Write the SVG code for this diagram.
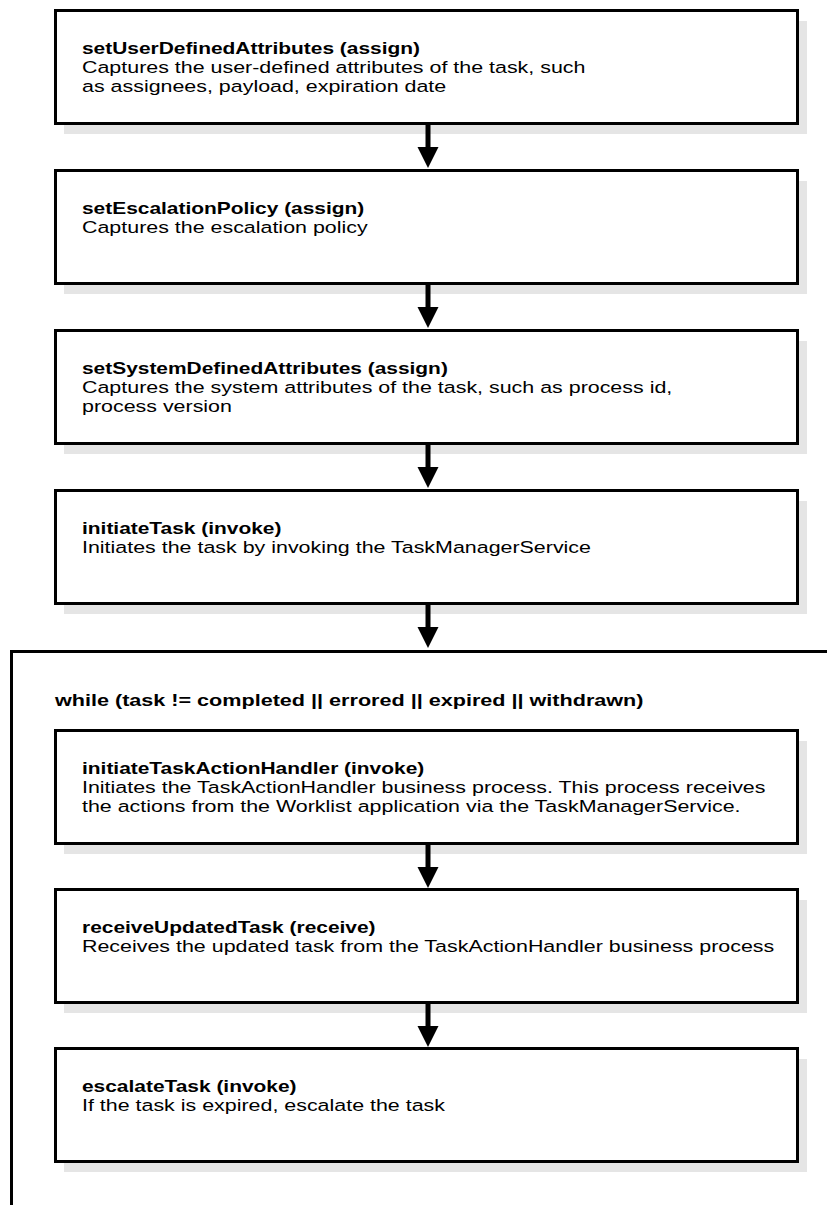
<svg xmlns="http://www.w3.org/2000/svg" width="827" height="1205" viewBox="0 0 827 1205">
  <defs>
    <style>
      .shadow { fill: #e5e5e5; stroke: none; }
      .box { fill: #ffffff; stroke: #000000; stroke-width: 3; }
      .title { font-family: "Liberation Sans", Arial, sans-serif; font-size: 17px; font-weight: bold; fill: #000000; }
      .desc { font-family: "Liberation Sans", Arial, sans-serif; font-size: 17px; fill: #000000; }
      .edge { stroke: #000000; stroke-width: 5; fill: none; }
      .head { fill: #000000; stroke: none; }
      .loop { fill: none; stroke: #000000; stroke-width: 3; }
    </style>
  </defs>

  <rect width="827" height="1205" fill="#ffffff"/>

  <!-- while loop container (runs off the page to the right and bottom) -->
  <g id="while-loop">
    <path class="loop" d="M11.5,1205 V651.5 H827"/>
    <text class="title" transform="translate(55,706) scale(1.27,1)">while (task != completed || errored || expired || withdrawn)</text>
  </g>

  <g id="setUserDefinedAttributes">
    <rect class="shadow" x="64" y="21" width="743" height="113"/>
    <rect class="box" x="55.5" y="10.5" width="742" height="113"/>
    <text class="title" transform="translate(82,54) scale(1.23,1)">setUserDefinedAttributes (assign)</text>
    <text class="desc" transform="translate(82,73) scale(1.26,1)">Captures the user-defined attributes of the task, such</text>
    <text class="desc" transform="translate(82,92) scale(1.26,1)">as assignees, payload, expiration date</text>
  </g>

  <g id="setEscalationPolicy">
    <rect class="shadow" x="64" y="181" width="743" height="113"/>
    <rect class="box" x="55.5" y="170.5" width="742" height="113"/>
    <text class="title" transform="translate(82,214) scale(1.23,1)">setEscalationPolicy (assign)</text>
    <text class="desc" transform="translate(82,233) scale(1.26,1)">Captures the escalation policy</text>
  </g>

  <g id="setSystemDefinedAttributes">
    <rect class="shadow" x="64" y="341" width="743" height="113"/>
    <rect class="box" x="55.5" y="330.5" width="742" height="113"/>
    <text class="title" transform="translate(82,374) scale(1.23,1)">setSystemDefinedAttributes (assign)</text>
    <text class="desc" transform="translate(82,393) scale(1.26,1)">Captures the system attributes of the task, such as process id,</text>
    <text class="desc" transform="translate(82,412) scale(1.26,1)">process version</text>
  </g>

  <g id="initiateTask">
    <rect class="shadow" x="64" y="501" width="743" height="113"/>
    <rect class="box" x="55.5" y="490.5" width="742" height="113"/>
    <text class="title" transform="translate(82,534) scale(1.23,1)">initiateTask (invoke)</text>
    <text class="desc" transform="translate(82,553) scale(1.26,1)">Initiates the task by invoking the TaskManagerService</text>
  </g>

  <g id="initiateTaskActionHandler">
    <rect class="shadow" x="64" y="741" width="743" height="113"/>
    <rect class="box" x="55.5" y="730.5" width="742" height="113"/>
    <text class="title" transform="translate(82,774) scale(1.23,1)">initiateTaskActionHandler (invoke)</text>
    <text class="desc" transform="translate(82,793) scale(1.26,1)">Initiates the TaskActionHandler business process. This process receives</text>
    <text class="desc" transform="translate(82,812) scale(1.26,1)">the actions from the Worklist application via the TaskManagerService.</text>
  </g>

  <g id="receiveUpdatedTask">
    <rect class="shadow" x="64" y="900" width="743" height="113"/>
    <rect class="box" x="55.5" y="889.5" width="742" height="113"/>
    <text class="title" transform="translate(82,933) scale(1.23,1)">receiveUpdatedTask (receive)</text>
    <text class="desc" transform="translate(82,952) scale(1.26,1)">Receives the updated task from the TaskActionHandler business process</text>
  </g>

  <g id="escalateTask">
    <rect class="shadow" x="64" y="1059" width="743" height="113"/>
    <rect class="box" x="55.5" y="1048.5" width="742" height="113"/>
    <text class="title" transform="translate(82,1092) scale(1.23,1)">escalateTask (invoke)</text>
    <text class="desc" transform="translate(82,1111) scale(1.26,1)">If the task is expired, escalate the task</text>
  </g>

  <g id="connectors">
    <line class="edge" x1="428" y1="124" x2="428" y2="149"/>
    <polygon class="head" points="417.5,147 438.5,147 428,168"/>
    <line class="edge" x1="428" y1="284" x2="428" y2="309"/>
    <polygon class="head" points="417.5,307 438.5,307 428,328"/>
    <line class="edge" x1="428" y1="444" x2="428" y2="469"/>
    <polygon class="head" points="417.5,467 438.5,467 428,488"/>
    <line class="edge" x1="428" y1="604" x2="428" y2="629"/>
    <polygon class="head" points="417.5,627 438.5,627 428,648"/>
    <line class="edge" x1="428" y1="844" x2="428" y2="869"/>
    <polygon class="head" points="417.5,867 438.5,867 428,888"/>
    <line class="edge" x1="428" y1="1003" x2="428" y2="1028"/>
    <polygon class="head" points="417.5,1026 438.5,1026 428,1047"/>
  </g>
</svg>
